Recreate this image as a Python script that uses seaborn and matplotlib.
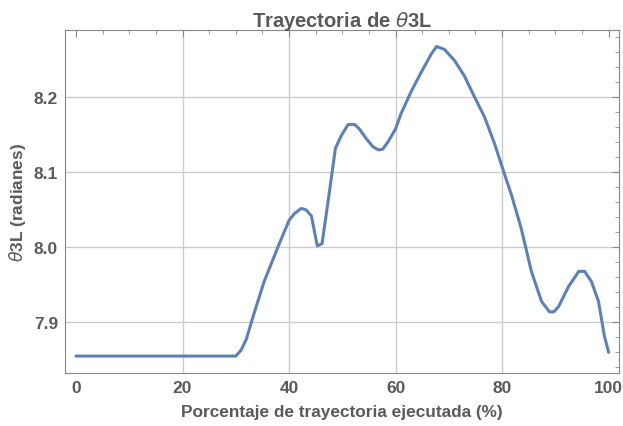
import numpy as np
import pandas as pd
import seaborn as sns
import matplotlib.pyplot as plt
from matplotlib.ticker import MultipleLocator

# Datos
porcentaje = [0, 5, 10, 15, 20, 25, 30, 31, 32, 33.3, 35.3, 38, 40, 41, 42.3, 43.2,
              44.2, 45.3, 46.2, 47.4, 48.7, 49.8, 51.1, 52.3, 53.2, 54.5, 55.8, 56.8,
              57.6, 58.6, 60, 61, 63, 65, 66.7, 67.7, 69.2, 71.1, 72.9, 74.8, 76.7,
              78.6, 80.3, 81.8, 83.6, 85.5, 87.4, 88.9, 89.7, 90.6, 92.5, 94.4, 95.5,
              96.8, 98.1, 99.2, 100]
theta3L = [7.854, 7.854, 7.854, 7.854, 7.854, 7.854, 7.854, 7.862, 7.877, 7.908,
           7.953, 8.001, 8.035, 8.044, 8.051, 8.049, 8.041, 8.001, 8.004, 8.064,
           8.131, 8.148, 8.163, 8.163, 8.157, 8.144, 8.133, 8.129, 8.130, 8.140,
           8.157, 8.177, 8.208, 8.235, 8.257, 8.267, 8.263, 8.248, 8.228, 8.200,
           8.173, 8.137, 8.100, 8.068, 8.024, 7.967, 7.927, 7.913, 7.913, 7.920,
           7.947, 7.967, 7.967, 7.953, 7.927, 7.881, 7.859]

df = pd.DataFrame({'x': porcentaje, 'y': theta3L})

sns.set_style('white')
plt.rcParams['font.family'] = ['Liberation Sans', 'DejaVu Sans']
gris = '#5a5a5a'

fig = plt.figure(figsize=(6.23, 4.27), dpi=100)
ax = fig.add_axes([0.1043, 0.1234, 0.8897, 0.804])

sns.lineplot(data=df, x='x', y='y', ax=ax, color='#5E81B5', linewidth=2.2)

ax.set_xlim(-2.07, 102.0)
ax.set_ylim(7.831, 8.289)
ax.xaxis.set_major_locator(MultipleLocator(20))
ax.xaxis.set_minor_locator(MultipleLocator(5))
ax.yaxis.set_minor_locator(MultipleLocator(0.02))
ax.set_yticks([7.9, 8.0, 8.1, 8.2])
ax.set_yticklabels(['7.9', '8.0', '8.1', '8.2'])

ax.tick_params(which='both', direction='in', top=True, right=True, color='#888888')
ax.tick_params(which='major', length=5, labelsize=12.5, labelcolor=gris, width=0.8, pad=5)
ax.tick_params(which='minor', length=3, width=0.6)
for lab in ax.get_xticklabels() + ax.get_yticklabels():
    lab.set_fontweight('bold')

# rejilla solo en las marcas interiores
for xv in [20, 40, 60, 80]:
    ax.axvline(xv, color='#cccccc', linewidth=1, zorder=0)
for yv in [7.9, 8.0, 8.1, 8.2]:
    ax.axhline(yv, color='#cccccc', linewidth=1, zorder=0)
for s in ax.spines.values():
    s.set_color('#888888')
    s.set_linewidth(0.8)

ax.set_title(r'Trayectoria de $\theta$3L', fontsize=14.5, fontweight='bold', color=gris, pad=3)
ax.set_xlabel('Porcentaje de trayectoria ejecutada (%)', fontsize=12.4, fontweight='bold',
              color=gris, labelpad=6)
ax.set_ylabel(r'$\theta$3L (radianes)', fontsize=12.4, fontweight='bold', color=gris)

fig.savefig('out.png', dpi=100)
